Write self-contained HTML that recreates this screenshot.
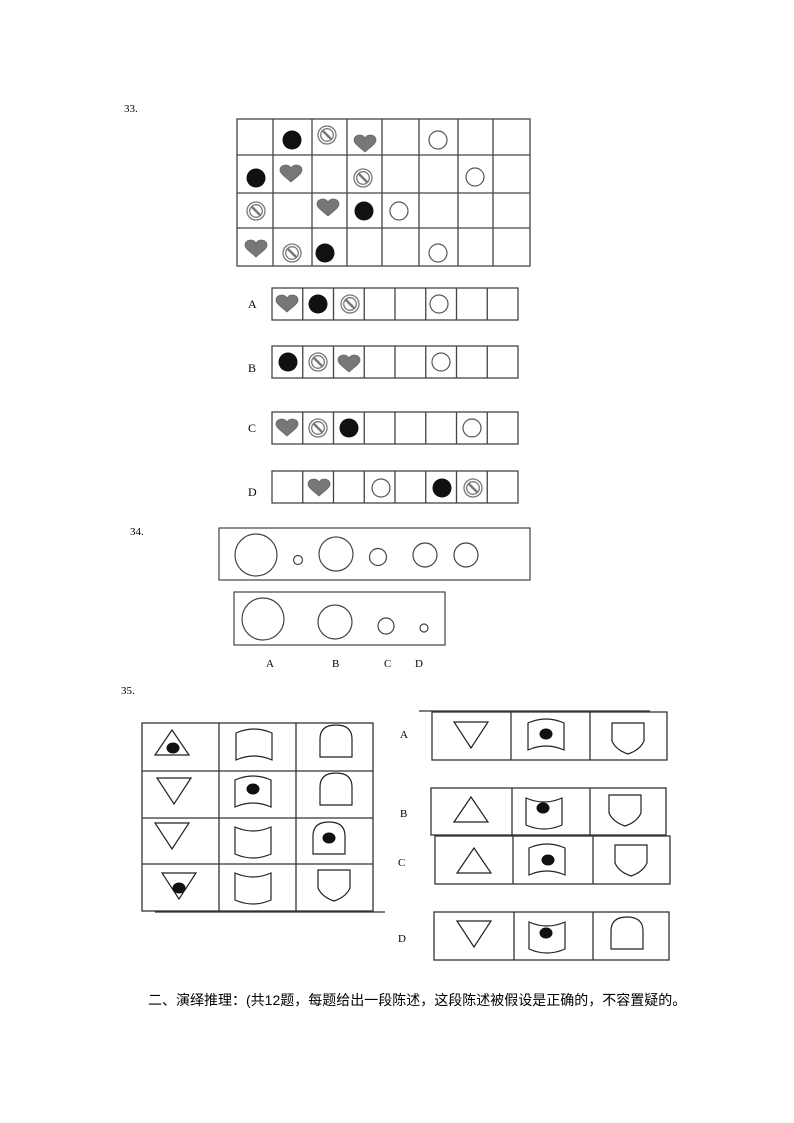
<!DOCTYPE html>
<html><head><meta charset="utf-8"><style>
html,body{margin:0;padding:0;background:#fff;}
svg{display:block;}
text{font-family:"Liberation Serif","Noto Serif CJK SC",serif;}
</style></head><body>
<svg width="794" height="1123" viewBox="0 0 794 1123" xmlns="http://www.w3.org/2000/svg">
<defs>
<g id="blk"><circle r="9.5" fill="#111"/></g>
<g id="cir"><circle r="9" fill="none" stroke="#555" stroke-width="1.2"/></g>
<g id="ne"><circle r="9" fill="#fff" stroke="#777" stroke-width="1.3"/><circle r="6.3" fill="none" stroke="#777" stroke-width="1.3"/><line x1="-4.5" y1="-4.5" x2="4.5" y2="4.5" stroke="#777" stroke-width="2.5"/></g>
<g id="hrt"><path d="M0,8 C-4,4 -11,0 -11,-4 C-11,-8 -7,-9 -5,-9 C-2,-9 0,-7 0,-5 C0,-7 2,-9 5,-9 C7,-9 11,-8 11,-4 C11,0 4,4 0,8 Z" fill="#777" stroke="#666" stroke-width="0.8"/></g>
<g id="tu"><polygon points="-17,11 0,-14 17,11" fill="none" stroke="#222" stroke-width="1.2"/></g>
<g id="td"><polygon points="-17,-12 17,-12 0,14" fill="none" stroke="#222" stroke-width="1.2"/></g>
<g id="fu"><path d="M-18,-13 Q0,-21 18,-13 L18,14 Q0,6 -18,14 Z" fill="none" stroke="#222" stroke-width="1.2"/></g>
<g id="fd"><path d="M-18,-14 Q0,-6 18,-14 L18,13 Q0,21 -18,13 Z" fill="none" stroke="#222" stroke-width="1.2"/></g>
<g id="dm"><path d="M-16,15 L-16,-3 Q-16,-17 0,-17 Q16,-17 16,-3 L16,15 Z" fill="none" stroke="#222" stroke-width="1.2"/></g>
<g id="sh"><path d="M-16,-15 L16,-15 L16,3 Q12,12 0,16 Q-12,12 -16,3 Z" fill="none" stroke="#222" stroke-width="1.2"/></g>
<g id="dot"><ellipse rx="6.5" ry="5.5" fill="#111"/></g>
</defs>

<text x="124" y="112" font-size="11">33.</text>
<g fill="none" stroke="#444" stroke-width="1.3">
<rect x="237" y="119" width="293" height="147"/>
<line x1="237" y1="155" x2="530" y2="155"/><line x1="237" y1="193" x2="530" y2="193"/><line x1="237" y1="228" x2="530" y2="228"/>
<line x1="273" y1="119" x2="273" y2="266"/><line x1="312" y1="119" x2="312" y2="266"/><line x1="347" y1="119" x2="347" y2="266"/><line x1="382" y1="119" x2="382" y2="266"/><line x1="419" y1="119" x2="419" y2="266"/><line x1="458" y1="119" x2="458" y2="266"/><line x1="493" y1="119" x2="493" y2="266"/>
</g>
<use href="#blk" x="292" y="140"/><use href="#ne" x="327" y="135"/><use href="#hrt" x="365" y="144"/><use href="#cir" x="438" y="140"/>
<use href="#blk" x="256" y="178"/><use href="#hrt" x="291" y="174"/><use href="#ne" x="363" y="178"/><use href="#cir" x="475" y="177"/>
<use href="#ne" x="256" y="211"/><use href="#hrt" x="328" y="208"/><use href="#blk" x="364" y="211"/><use href="#cir" x="399" y="211"/>
<use href="#hrt" x="256" y="249"/><use href="#ne" x="292" y="253"/><use href="#blk" x="325" y="253"/><use href="#cir" x="438" y="253"/>

<g font-size="12">
<text x="248" y="308">A</text><text x="248" y="372">B</text><text x="248" y="432">C</text><text x="248" y="496">D</text>
</g>
<g fill="none" stroke="#444" stroke-width="1.3">
<rect x="272" y="288" width="246" height="32"/><rect x="272" y="346" width="246" height="32"/><rect x="272" y="412" width="246" height="32"/><rect x="272" y="471" width="246" height="32"/>
<path d="M302.75,288V320M333.5,288V320M364.25,288V320M395,288V320M425.75,288V320M456.5,288V320M487.25,288V320"/>
<path d="M302.75,346V378M333.5,346V378M364.25,346V378M395,346V378M425.75,346V378M456.5,346V378M487.25,346V378"/>
<path d="M302.75,412V444M333.5,412V444M364.25,412V444M395,412V444M425.75,412V444M456.5,412V444M487.25,412V444"/>
<path d="M302.75,471V503M333.5,471V503M364.25,471V503M395,471V503M425.75,471V503M456.5,471V503M487.25,471V503"/>
</g>
<use href="#hrt" x="287" y="304"/><use href="#blk" x="318" y="304"/><use href="#ne" x="350" y="304"/><use href="#cir" x="439" y="304"/>
<use href="#blk" x="288" y="362"/><use href="#ne" x="318" y="362"/><use href="#hrt" x="349" y="364"/><use href="#cir" x="441" y="362"/>
<use href="#hrt" x="287" y="428"/><use href="#ne" x="318" y="428"/><use href="#blk" x="349" y="428"/><use href="#cir" x="472" y="428"/>
<use href="#hrt" x="319" y="488"/><use href="#cir" x="381" y="488"/><use href="#blk" x="442" y="488"/><use href="#ne" x="473" y="488"/>

<text x="130" y="535" font-size="11">34.</text>
<g fill="none" stroke="#444" stroke-width="1.2">
<rect x="219" y="528" width="311" height="52"/>
<circle cx="256" cy="555" r="21"/><circle cx="298" cy="560" r="4.5"/><circle cx="336" cy="554" r="17"/><circle cx="378" cy="557" r="8.5"/><circle cx="425" cy="555" r="12"/><circle cx="466" cy="555" r="12"/>
<rect x="234" y="592" width="211" height="53"/>
<circle cx="263" cy="619" r="21"/><circle cx="335" cy="622" r="17"/><circle cx="386" cy="626" r="8"/><circle cx="424" cy="628" r="4"/>
</g>
<g font-size="11"><text x="266" y="667">A</text><text x="332" y="667">B</text><text x="384" y="667">C</text><text x="415" y="667">D</text></g>

<text x="121" y="694" font-size="11">35.</text>
<g fill="none" stroke="#333" stroke-width="1.3">
<rect x="142" y="723" width="231" height="188"/>
<line x1="142" y1="771" x2="373" y2="771"/><line x1="142" y1="818" x2="373" y2="818"/><line x1="142" y1="864" x2="373" y2="864"/>
<line x1="219" y1="723" x2="219" y2="911"/><line x1="296" y1="723" x2="296" y2="911"/>
<line x1="155" y1="912" x2="385" y2="912"/>
</g>
<use href="#tu" x="172" y="744"/><use href="#dot" x="173" y="748"/><use href="#fu" x="254" y="746"/><use href="#dm" x="336" y="742"/>
<use href="#td" x="174" y="790"/><use href="#fu" x="253" y="793"/><use href="#dot" x="253" y="789"/><use href="#dm" x="336" y="790"/>
<use href="#td" x="172" y="835"/><use href="#fd" x="253" y="841"/><use href="#dm" x="329" y="839"/><use href="#dot" x="329" y="838"/>
<use href="#td" x="179" y="885"/><use href="#dot" x="179" y="888"/><use href="#fd" x="253" y="887"/><use href="#sh" x="334" y="885"/>

<g font-size="11"><text x="400" y="738">A</text><text x="400" y="817">B</text><text x="398" y="866">C</text><text x="398" y="942">D</text></g>
<g fill="none" stroke="#333" stroke-width="1.3">
<line x1="419" y1="711" x2="650" y2="711"/>
<rect x="432" y="712" width="235" height="48"/><line x1="511" y1="712" x2="511" y2="760"/><line x1="590" y1="712" x2="590" y2="760"/>
<rect x="431" y="788" width="235" height="47"/><line x1="512" y1="788" x2="512" y2="835"/><line x1="590" y1="788" x2="590" y2="835"/>
<rect x="435" y="836" width="235" height="48"/><line x1="513" y1="836" x2="513" y2="884"/><line x1="593" y1="836" x2="593" y2="884"/>
<rect x="434" y="912" width="235" height="48"/><line x1="514" y1="912" x2="514" y2="960"/><line x1="593" y1="912" x2="593" y2="960"/>
</g>
<use href="#td" x="471" y="734"/><use href="#fu" x="546" y="736"/><use href="#dot" x="546" y="734"/><use href="#sh" x="628" y="738"/>
<use href="#tu" x="471" y="811"/><use href="#fd" x="544" y="812"/><use href="#dot" x="543" y="808"/><use href="#sh" x="625" y="810"/>
<use href="#tu" x="474" y="862"/><use href="#fu" x="547" y="861"/><use href="#dot" x="548" y="860"/><use href="#sh" x="631" y="860"/>
<use href="#td" x="474" y="933"/><use href="#fd" x="547" y="936"/><use href="#dot" x="546" y="933"/><use href="#dm" x="627" y="934"/>

<text x="148" y="1005" font-size="14" style="font-family:'Liberation Sans','Noto Sans CJK SC',sans-serif">二、演绎推理：(共12题，每题给出一段陈述，这段陈述被假设是正确的，不容置疑的。</text>
</svg>
</body></html>
